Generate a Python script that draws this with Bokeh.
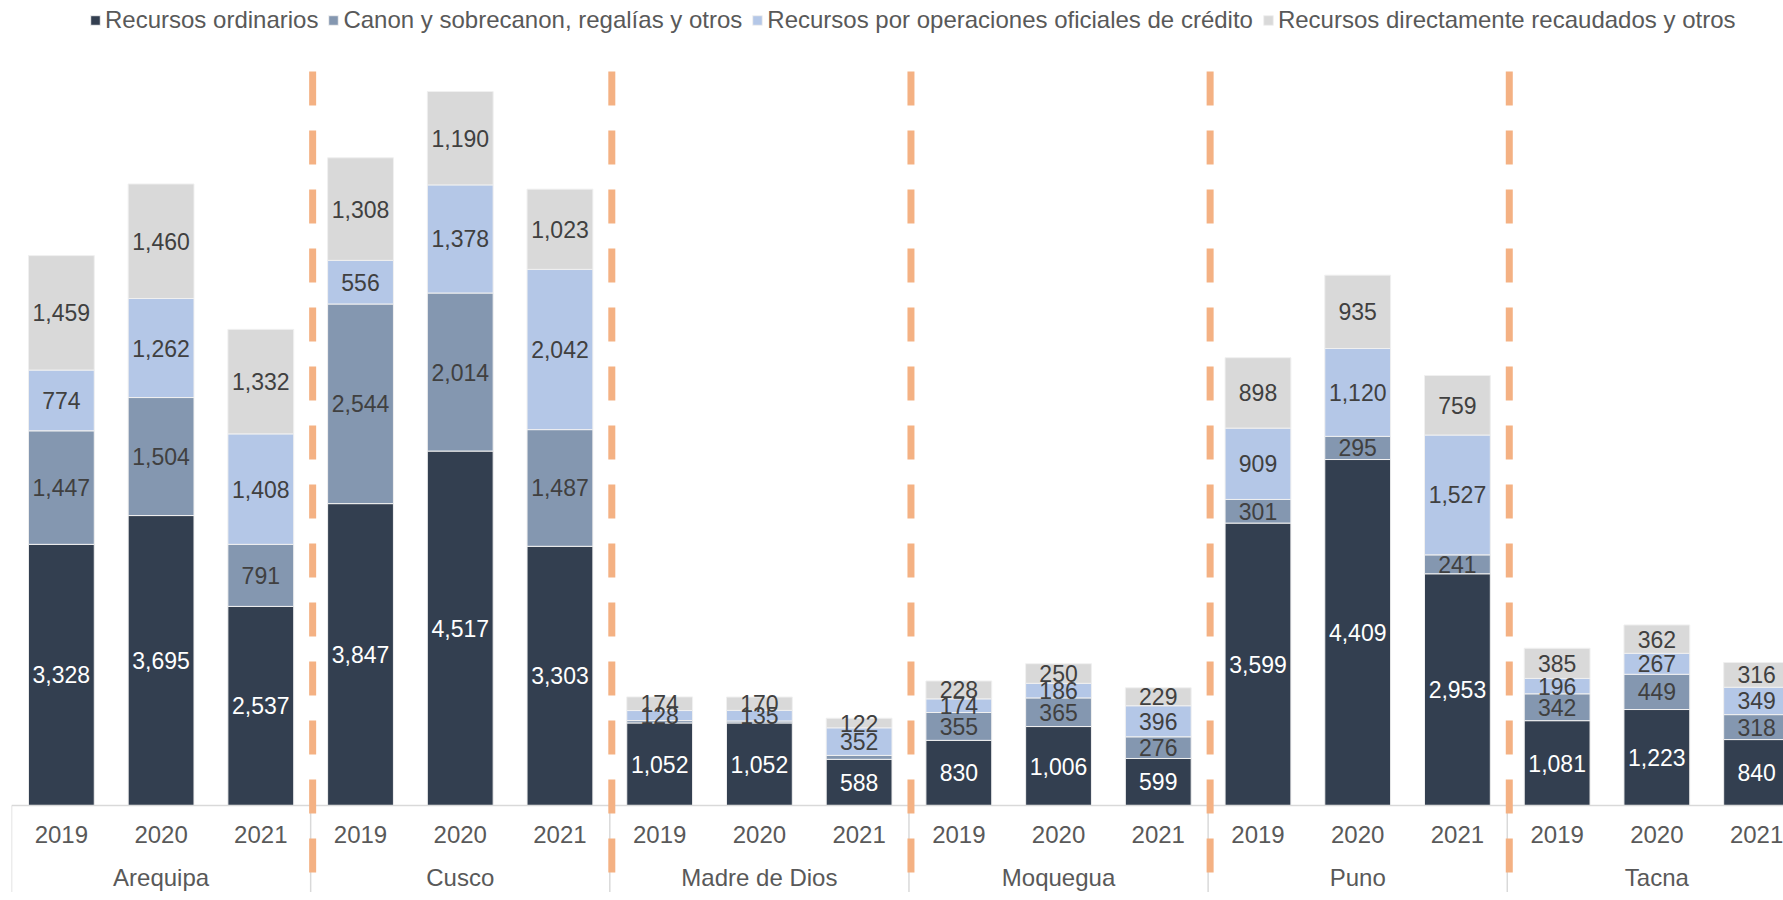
from bokeh.plotting import figure
from bokeh.models import ColumnDataSource, Legend, LegendItem
from bokeh.core.properties import value
from bokeh.embed import file_html
from bokeh.resources import INLINE

regions = ["Arequipa", "Cusco", "Madre de Dios", "Moquegua", "Puno", "Tacna"]
years = ["2019", "2020", "2021"]

ordinarios = [3328, 3695, 2537, 3847, 4517, 3303, 1052, 1052, 588,
              830, 1006, 599, 3599, 4409, 2953, 1081, 1223, 840]
canon = [1447, 1504, 791, 2544, 2014, 1487, 30, 25, 50,
         355, 365, 276, 301, 295, 241, 342, 449, 318]
credito = [774, 1262, 1408, 556, 1378, 2042, 128, 135, 352,
           174, 186, 396, 909, 1120, 1527, 196, 267, 349]
directos = [1459, 1460, 1332, 1308, 1190, 1023, 174, 170, 122,
            228, 250, 229, 898, 935, 759, 385, 362, 316]

series_names = ["Recursos ordinarios", "Canon y sobrecanon, regalías y otros",
                "Recursos por operaciones oficiales de crédito",
                "Recursos directamente recaudados y otros"]
colors = ["#333F50", "#8497B0", "#B4C7E7", "#D9D9D9"]
label_colors = ["#FFFFFF", "#404040", "#404040", "#404040"]

FONT_NAME = "Liberation Sans"
FONT = value(FONT_NAME)

n_reg = len(regions)
n_yr = len(years)
xs = [r * n_yr + j + 0.5 for r in range(n_reg) for j in range(n_yr)]

data = dict(x=xs, s0=ordinarios, s1=canon, s2=credito, s3=directos)
src = ColumnDataSource(data)

W, H = 1783, 892
p = figure(width=W, height=H, output_backend="svg", toolbar_location=None,
           x_range=(0, 17.77), y_range=(-1109, 10259),
           min_border_left=11, min_border_right=0, min_border_top=0, min_border_bottom=0)
p.xaxis.visible = False
p.yaxis.visible = False
p.xgrid.visible = False
p.ygrid.visible = False
p.outline_line_color = None
p.background_fill_color = "white"

renderers = p.vbar_stack(["s0", "s1", "s2", "s3"], x="x", width=0.66, color=colors,
                         line_color="#F0F0F0", line_width=1, source=src)

# value labels
series = [ordinarios, canon, credito, directos]
base = [0] * len(xs)
for k, vals in enumerate(series):
    lx, ly, lt = [], [], []
    for i, v in enumerate(vals):
        if v >= 100:
            lx.append(xs[i])
            ly.append(base[i] + v / 2)
            lt.append(f"{v:,}")
    base = [b + v for b, v in zip(base, vals)]
    p.text(x=lx, y=ly, text=lt, text_align="center", text_baseline="middle",
           text_font=FONT, text_font_size="23px", text_color=label_colors[k])

# category axis (drawn in data space)
p.segment(x0=[0], y0=[0], x1=[18], y1=[0], line_color="#D9D9D9", line_width=1.5)
bounds = [r * n_yr for r in range(n_reg + 1)]
p.segment(x0=bounds, y0=[0] * len(bounds), x1=bounds, y1=[-1200] * len(bounds),
          line_color="#D9D9D9", line_width=1.5)
p.text(x=xs, y=[-370] * len(xs), text=[years[i % n_yr] for i in range(len(xs))],
       text_align="center", text_baseline="middle", text_font=FONT,
       text_font_size="24px", text_color="#595959")
p.text(x=[r * n_yr + 1.5 for r in range(n_reg)], y=[-917] * n_reg, text=regions,
       text_align="center", text_baseline="middle", text_font=FONT,
       text_font_size="24px", text_color="#595959")

# region separators
seps = [r * n_yr + 0.02 for r in range(1, n_reg)]
p.segment(x0=seps, y0=[9354] * len(seps), x1=seps, y1=[-1200] * len(seps),
          line_color="#F4B183", line_width=7, line_dash="34 25", line_cap="butt")

legend = Legend(items=[LegendItem(label=series_names[k], renderers=[renderers[k]])
                       for k in range(4)],
                orientation="horizontal", location=(78, H - 6 - 28),
                label_text_font=FONT_NAME, label_text_font_size="24px",
                label_text_color="#595959", glyph_width=12, glyph_height=12,
                label_standoff=4, spacing=9, padding=0, margin=0,
                border_line_color=None, background_fill_alpha=0)
p.add_layout(legend, "center")

open("out.html", "w").write(file_html(p, INLINE))
